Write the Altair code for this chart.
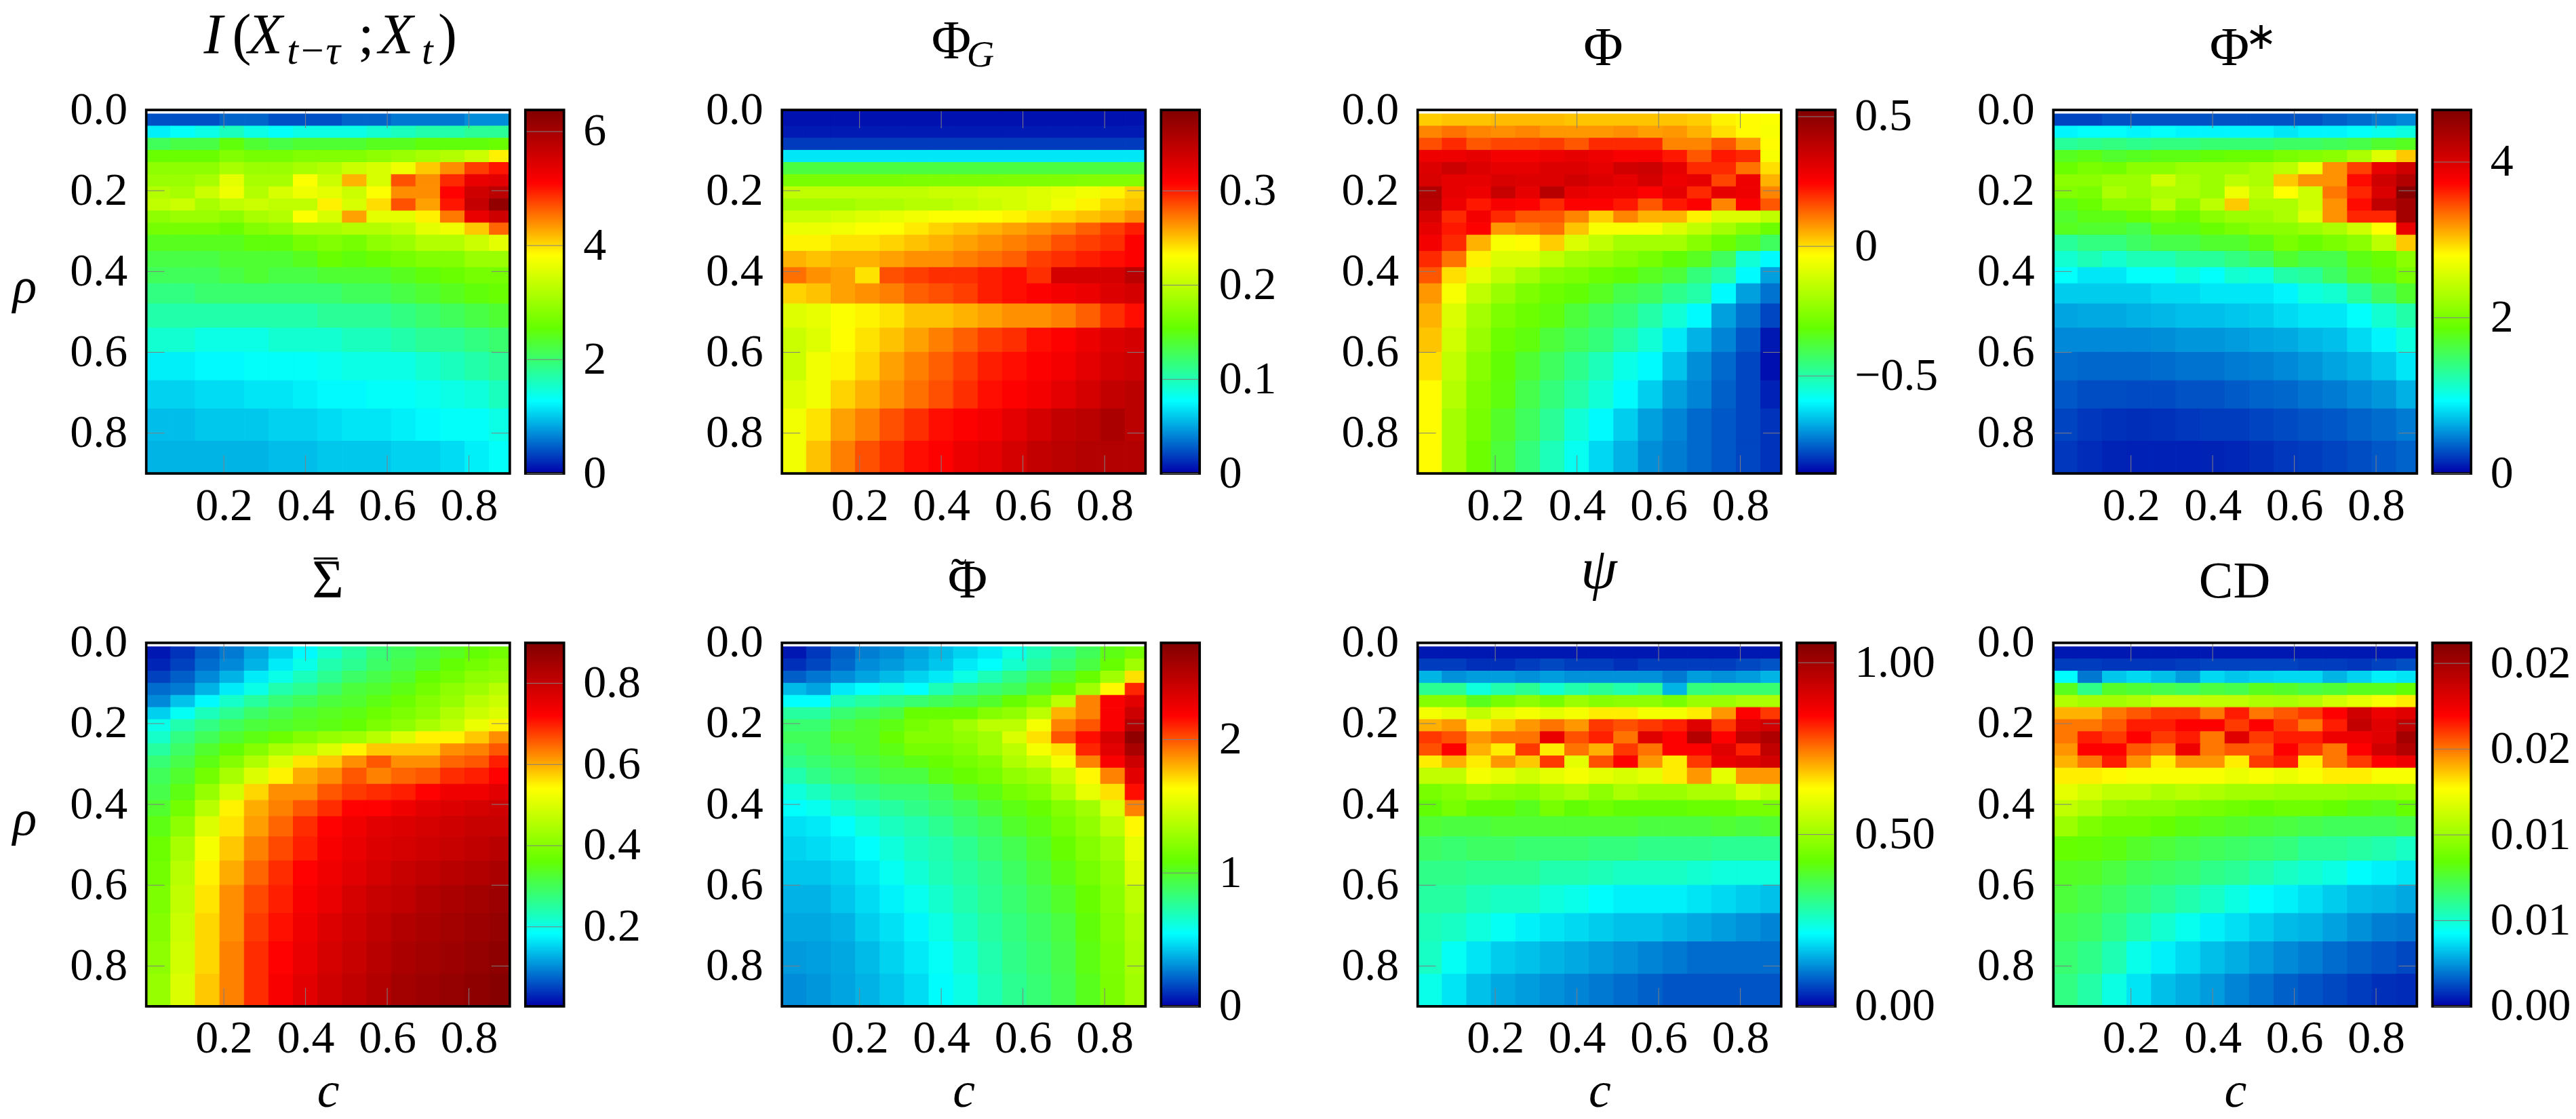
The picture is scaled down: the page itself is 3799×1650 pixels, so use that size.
import altair as alt
import pandas as pd

# cell edges of the grid
C_EDGES = [0.01, 0.07, 0.13, 0.19, 0.25, 0.31, 0.37, 0.43, 0.49, 0.55, 0.61, 0.67, 0.73, 0.79, 0.85, 0.90]
RHO_EDGES = [0.01, 0.04, 0.07, 0.10, 0.13, 0.16, 0.19, 0.22, 0.25, 0.28, 0.31, 0.35, 0.39, 0.43, 0.48, 0.54, 0.60, 0.67, 0.74, 0.82, 0.90]

MI = [
    [.4, .4, .4, .5, .5, .4, .4, .4, .5, .5, .6, .6, .6, .7, .7],
    [1.2, 1.3, 1.4, 1.6, 1.4, 1.3, 1.4, 1.4, 1.4, 1.5, 1.6, 1.7, 1.7, 1.8, 1.8],
    [2.1, 2.2, 2.2, 2.5, 2.3, 2.2, 2.3, 2.3, 2.3, 2.4, 2.4, 2.5, 2.5, 2.5, 2.6],
    [2.6, 2.6, 2.6, 2.8, 2.7, 2.7, 2.8, 2.8, 2.8, 2.9, 3.0, 3.1, 3.2, 3.4, 3.9],
    [2.9, 2.9, 2.9, 3.1, 3.0, 3.0, 3.1, 3.2, 3.4, 3.5, 3.7, 4.1, 4.4, 4.8, 5.0],
    [3.0, 3.0, 3.1, 3.6, 3.1, 3.1, 3.8, 3.4, 4.2, 3.5, 4.7, 4.4, 4.9, 5.3, 5.4],
    [3.2, 3.1, 3.4, 3.7, 3.2, 3.5, 3.7, 3.6, 3.4, 3.8, 4.4, 4.4, 5.1, 5.6, 5.8],
    [3.3, 3.4, 3.1, 3.3, 3.4, 3.3, 3.3, 3.9, 3.5, 4.0, 4.7, 4.3, 5.0, 5.7, 6.2],
    [2.9, 3.0, 3.0, 2.9, 3.1, 3.2, 3.8, 3.5, 4.3, 3.6, 3.6, 3.9, 4.5, 5.3, 5.6],
    [2.7, 2.7, 2.7, 2.6, 2.8, 2.9, 3.1, 3.1, 3.2, 3.2, 3.3, 3.6, 3.7, 4.1, 4.6],
    [2.4, 2.4, 2.4, 2.4, 2.5, 2.5, 2.7, 2.8, 2.7, 2.9, 3.0, 3.2, 3.2, 3.4, 3.6],
    [2.2, 2.2, 2.2, 2.3, 2.3, 2.3, 2.4, 2.6, 2.5, 2.6, 2.7, 2.8, 2.8, 3.0, 3.0],
    [2.1, 2.1, 2.1, 2.2, 2.3, 2.2, 2.2, 2.3, 2.3, 2.3, 2.4, 2.5, 2.6, 2.7, 2.7],
    [1.9, 1.9, 2.0, 2.0, 2.0, 2.0, 2.0, 2.0, 2.1, 2.1, 2.2, 2.3, 2.4, 2.5, 2.6],
    [1.7, 1.7, 1.7, 1.7, 1.7, 1.7, 1.7, 1.8, 1.8, 1.8, 1.9, 2.0, 2.1, 2.2, 2.3],
    [1.5, 1.5, 1.4, 1.4, 1.4, 1.5, 1.5, 1.5, 1.6, 1.6, 1.7, 1.8, 1.8, 1.9, 2.0],
    [1.2, 1.2, 1.25, 1.25, 1.3, 1.3, 1.3, 1.35, 1.4, 1.4, 1.4, 1.5, 1.6, 1.7, 1.8],
    [1.05, 1.05, 1.1, 1.1, 1.15, 1.15, 1.2, 1.25, 1.25, 1.3, 1.3, 1.35, 1.4, 1.45, 1.6],
    [.95, .95, 1.0, 1.0, 1.0, 1.05, 1.05, 1.1, 1.15, 1.15, 1.2, 1.25, 1.3, 1.3, 1.4],
    [.9, .9, .9, .9, .9, .95, .95, 1.0, 1.0, 1.0, 1.05, 1.05, 1.1, 1.2, 1.3],
]
PHI_G = [
    [.005, .005, .005, .005, .005, .005, .005, .005, .005, .005, .005, .005, .005, .005, .005],
    [.008, .008, .008, .008, .008, .008, .008, .008, .008, .008, .008, .008, .008, .008, .008],
    [.018, .018, .018, .018, .018, .018, .018, .018, .018, .018, .018, .018, .018, .018, .018],
    [.07, .07, .07, .07, .07, .07, .07, .07, .07, .07, .07, .07, .07, .07, .07],
    [.135, .135, .135, .135, .135, .135, .135, .135, .135, .135, .135, .135, .135, .135, .135],
    [.165, .165, .165, .165, .165, .167, .167, .167, .167, .168, .168, .168, .17, .17, .17],
    [.2, .2, .2, .2, .2, .2, .205, .205, .21, .21, .215, .22, .225, .235, .245],
    [.185, .185, .185, .19, .19, .195, .195, .2, .205, .21, .215, .225, .235, .245, .25],
    [.205, .205, .21, .215, .22, .225, .23, .23, .232, .235, .24, .245, .25, .255, .265],
    [.222, .222, .225, .23, .232, .238, .245, .25, .255, .26, .265, .27, .28, .29, .30],
    [.235, .235, .24, .24, .245, .25, .255, .26, .265, .27, .275, .285, .29, .295, .31],
    [.255, .25, .255, .255, .26, .265, .265, .27, .275, .28, .29, .295, .30, .305, .31],
    [.275, .265, .26, .24, .285, .29, .295, .295, .3, .305, .295, .335, .335, .335, .35],
    [.245, .25, .26, .265, .27, .28, .285, .29, .3, .305, .31, .315, .32, .33, .335],
    [.215, .22, .23, .235, .24, .25, .25, .255, .26, .265, .265, .27, .28, .295, .305],
    [.205, .215, .232, .24, .25, .26, .27, .28, .29, .295, .305, .31, .32, .33, .335],
    [.205, .225, .235, .245, .26, .27, .28, .29, .3, .305, .31, .315, .325, .335, .34],
    [.215, .225, .245, .255, .265, .275, .285, .295, .305, .31, .315, .325, .335, .345, .35],
    [.225, .24, .26, .27, .285, .295, .305, .31, .315, .325, .335, .345, .35, .36, .35],
    [.225, .25, .27, .285, .295, .305, .31, .32, .325, .335, .345, .35, .355, .355, .355],
]
PHI = [
    [.02, .03, .03, .04, .04, .04, .03, .03, .03, .03, .03, .02, -.02, -.03, -.04],
    [.1, .12, .1, .09, .1, .08, .08, .08, .09, .07, .08, .05, 0, -.03, -.05],
    [.16, .2, .15, .17, .17, .18, .15, .2, .2, .2, .1, .1, .15, .08, -.03],
    [.28, .28, .3, .27, .27, .28, .3, .28, .26, .26, .22, .15, .22, .2, -.05],
    [.32, .36, .32, .3, .3, .32, .32, .3, .35, .36, .3, .2, .2, .12, 0],
    [.33, .3, .3, .33, .32, .32, .35, .32, .3, .34, .28, .3, .17, .28, .05],
    [.42, .3, .28, .37, .3, .4, .3, .28, .28, .25, .3, .2, .3, .28, .1],
    [.4, .28, .22, .26, .25, .2, .25, .25, .22, .15, .22, .25, .1, .25, .15],
    [.33, .2, .27, .2, .15, .15, .1, .02, .1, .05, .05, -.02, -.1, -.1, -.15],
    [.3, .22, .25, .08, .1, .12, .03, -.05, -.05, -.05, -.1, -.15, -.2, -.25, -.3],
    [.27, .2, .05, -.05, -.03, .02, -.1, -.15, -.2, -.2, -.2, -.25, -.3, -.35, -.42],
    [.2, .12, -.02, -.1, -.1, -.15, -.2, -.22, -.25, -.28, -.32, -.35, -.42, -.55, -.6],
    [.15, .0, -.08, -.15, -.2, -.25, -.27, -.3, -.32, -.35, -.38, -.45, -.5, -.6, -.7],
    [.08, -.05, -.15, -.22, -.27, -.3, -.32, -.35, -.4, -.42, -.47, -.5, -.6, -.7, -.75],
    [.05, -.1, -.2, -.27, -.3, -.33, -.38, -.42, -.45, -.5, -.55, -.6, -.7, -.75, -.8],
    [.03, -.12, -.22, -.3, -.33, -.38, -.42, -.45, -.5, -.55, -.62, -.68, -.73, -.78, -.85],
    [.0, -.15, -.25, -.32, -.37, -.42, -.47, -.52, -.57, -.6, -.66, -.72, -.76, -.8, -.86],
    [-.03, -.17, -.27, -.33, -.4, -.45, -.5, -.55, -.6, -.65, -.7, -.73, -.77, -.8, -.84],
    [-.03, -.2, -.28, -.36, -.42, -.48, -.55, -.6, -.65, -.7, -.73, -.76, -.78, -.8, -.82],
    [-.03, -.2, -.3, -.38, -.45, -.52, -.58, -.64, -.68, -.72, -.74, -.76, -.78, -.8, -.82],
]
PHI_STAR = [
    [.25, .25, .3, .3, .3, .3, .3, .3, .3, .3, .3, .35, .4, .45, .5],
    [.9, .95, .95, .9, .95, .9, .9, .9, .9, .85, .9, .9, .95, 1.0, 1.05],
    [1.3, 1.35, 1.4, 1.35, 1.4, 1.4, 1.45, 1.45, 1.45, 1.5, 1.5, 1.55, 1.6, 1.7, 1.75],
    [1.75, 1.8, 1.7, 1.75, 1.8, 1.8, 1.85, 1.9, 1.9, 2.0, 2.05, 2.1, 2.3, 2.6, 3.0],
    [1.9, 2.0, 1.95, 2.1, 2.1, 2.2, 2.2, 2.2, 2.3, 2.4, 2.7, 3.2, 3.5, 3.9, 4.1],
    [2.1, 2.1, 2.2, 2.2, 2.5, 2.3, 2.2, 2.4, 2.3, 3.0, 3.2, 3.2, 3.7, 4.1, 4.3],
    [2.05, 2.0, 2.3, 2.2, 2.3, 2.3, 2.2, 2.7, 2.4, 2.8, 2.5, 3.3, 3.6, 4.0, 4.6],
    [1.8, 1.9, 2.1, 2.1, 2.4, 2.1, 2.4, 3.0, 2.3, 2.3, 2.5, 3.2, 3.7, 4.2, 4.4],
    [1.7, 1.8, 1.8, 1.9, 2.0, 1.9, 2.1, 2.2, 2.2, 2.3, 2.6, 3.2, 3.6, 3.6, 4.4],
    [1.75, 1.7, 1.7, 1.6, 1.8, 1.8, 1.9, 2.0, 2.1, 2.1, 2.2, 2.3, 2.5, 2.8, 3.9],
    [1.3, 1.4, 1.4, 1.5, 1.6, 1.6, 1.7, 1.7, 1.8, 2.0, 1.9, 2.0, 2.1, 2.4, 3.0],
    [1.1, 1.2, 1.1, 1.2, 1.2, 1.3, 1.3, 1.4, 1.5, 1.7, 1.6, 1.6, 1.8, 1.9, 2.1],
    [.95, .85, .85, .95, .95, 1.05, .95, 1.1, 1.05, 1.25, 1.3, 1.5, 1.7, 1.8, 2.0],
    [.75, .75, .75, .75, .8, .8, .85, .85, .85, .9, 1.05, 1.1, 1.3, 1.5, 1.7],
    [.6, .62, .62, .65, .67, .7, .7, .72, .75, .8, .85, .85, .95, 1.1, 1.25],
    [.5, .5, .5, .5, .52, .55, .55, .57, .6, .62, .67, .7, .8, .9, 1.05],
    [.4, .38, .38, .38, .4, .42, .42, .45, .47, .5, .55, .6, .65, .72, .85],
    [.32, .28, .28, .27, .27, .3, .3, .33, .36, .38, .42, .45, .5, .55, .65],
    [.25, .2, .18, .17, .18, .2, .22, .22, .25, .27, .3, .32, .36, .4, .45],
    [.2, .16, .13, .12, .12, .12, .13, .14, .17, .2, .22, .25, .28, .32, .36],
]
SIGMA_BAR = [
    [.02, .04, .07, .09, .12, .15, .18, .22, .25, .28, .3, .32, .34, .36, .38],
    [.03, .05, .08, .1, .13, .17, .2, .24, .26, .29, .31, .33, .36, .38, .4],
    [.05, .07, .1, .13, .17, .2, .23, .26, .29, .31, .33, .36, .38, .41, .42],
    [.08, .09, .13, .17, .2, .24, .26, .29, .32, .33, .35, .38, .41, .43, .46],
    [.1, .14, .18, .22, .25, .28, .3, .32, .33, .35, .37, .4, .42, .46, .48],
    [.15, .19, .23, .26, .29, .31, .33, .34, .35, .37, .39, .41, .45, .48, .5],
    [.2, .24, .27, .3, .32, .33, .34, .35, .36, .39, .41, .44, .47, .52, .55],
    [.22, .27, .3, .33, .35, .37, .4, .42, .43, .46, .5, .55, .55, .58, .62],
    [.25, .29, .33, .36, .4, .44, .46, .5, .55, .58, .58, .58, .62, .63, .66],
    [.28, .31, .35, .4, .45, .5, .56, .58, .62, .66, .62, .62, .65, .66, .7],
    [.3, .33, .38, .44, .5, .55, .6, .62, .66, .63, .65, .66, .69, .7, .72],
    [.31, .35, .42, .49, .57, .62, .62, .66, .68, .69, .7, .72, .74, .74, .76],
    [.33, .38, .46, .55, .6, .63, .66, .69, .72, .72, .74, .76, .77, .78, .79],
    [.35, .41, .5, .56, .61, .65, .69, .72, .74, .76, .77, .78, .79, .8, .8],
    [.37, .44, .53, .58, .63, .67, .7, .73, .75, .77, .78, .79, .8, .81, .82],
    [.38, .46, .55, .6, .65, .69, .72, .74, .76, .78, .8, .81, .82, .83, .84],
    [.39, .47, .56, .62, .67, .7, .73, .75, .78, .8, .81, .83, .84, .85, .86],
    [.4, .48, .57, .62, .68, .71, .74, .77, .79, .81, .83, .84, .85, .86, .87],
    [.41, .49, .57, .63, .69, .72, .75, .78, .8, .82, .84, .85, .86, .87, .88],
    [.42, .5, .58, .63, .69, .73, .76, .79, .81, .83, .85, .86, .87, .88, .89],
]
PHI_TILDE = [
    [.05, .12, .2, .27, .3, .35, .4, .45, .5, .6, .7, .8, .9, 1.05, 1.15],
    [.1, .15, .22, .3, .33, .37, .42, .5, .55, .65, .75, .85, .95, 1.1, 1.3],
    [.2, .25, .3, .35, .4, .45, .5, .6, .7, .8, .9, 1.0, 1.1, 1.3, 1.7],
    [.4, .35, .5, .55, .6, .55, .7, .8, .85, .9, 1.0, 1.1, 1.3, 1.65, 2.1],
    [.55, .55, .7, .75, .8, .85, .9, .95, 1.0, 1.1, 1.2, 1.4, 1.9, 2.2, 2.3],
    [.75, .75, .85, .9, .95, 1.1, 1.1, 1.1, 1.2, 1.25, 1.4, 1.8, 1.9, 2.2, 2.4],
    [.85, .85, .95, 1.0, 1.05, 1.15, 1.2, 1.3, 1.4, 1.4, 1.6, 1.9, 2.0, 2.2, 2.5],
    [.9, .9, 1.0, 1.0, 1.1, 1.2, 1.2, 1.25, 1.3, 1.5, 1.7, 2.0, 2.15, 2.35, 2.65],
    [.85, .9, .95, 1.0, 1.05, 1.15, 1.15, 1.2, 1.3, 1.4, 1.6, 1.7, 2.1, 2.3, 2.55],
    [.8, .85, .9, .95, 1.0, 1.05, 1.1, 1.15, 1.2, 1.35, 1.45, 1.6, 1.9, 2.2, 2.4],
    [.72, .8, .85, .9, .95, .95, 1.05, 1.1, 1.15, 1.25, 1.3, 1.45, 1.65, 1.9, 2.3],
    [.62, .68, .75, .8, .85, .85, .9, 1.0, 1.05, 1.15, 1.2, 1.35, 1.55, 1.7, 2.15],
    [.55, .58, .65, .7, .75, .8, .85, .9, .98, 1.05, 1.1, 1.2, 1.3, 1.5, 1.9],
    [.48, .5, .55, .62, .68, .72, .78, .85, .9, 1.0, 1.05, 1.15, 1.25, 1.4, 1.65],
    [.45, .47, .5, .55, .62, .68, .72, .78, .85, .92, 1.0, 1.1, 1.2, 1.3, 1.55],
    [.42, .42, .45, .5, .57, .63, .7, .75, .8, .88, .96, 1.05, 1.15, 1.25, 1.5],
    [.38, .38, .42, .47, .52, .58, .65, .72, .78, .85, .92, 1.0, 1.1, 1.22, 1.4],
    [.36, .36, .38, .44, .48, .53, .6, .68, .75, .82, .88, .95, 1.07, 1.2, 1.35],
    [.33, .34, .36, .4, .45, .5, .56, .63, .72, .8, .86, .93, 1.05, 1.18, 1.33],
    [.3, .32, .35, .38, .42, .47, .54, .6, .7, .78, .84, .92, 1.03, 1.17, 1.3],
]
PSI = [
    [.02, .02, .02, .02, .02, .02, .02, .02, .02, .02, .02, .02, .02, .02, .02],
    [.05, .05, .04, .04, .05, .06, .05, .05, .04, .05, .05, .05, .05, .06, .07],
    [.15, .12, .13, .13, .12, .13, .12, .12, .12, .12, .1, .13, .12, .13, .15],
    [.3, .3, .24, .28, .3, .25, .28, .3, .28, .3, .15, .32, .33, .33, .33],
    [.47, .47, .4, .45, .48, .45, .5, .47, .48, .48, .45, .5, .5, .52, .52],
    [.62, .6, .55, .6, .62, .6, .62, .65, .65, .62, .62, .65, .72, .85, .8],
    [.7, .72, .65, .68, .72, .75, .72, .8, .78, .8, .82, .9, .8, .9, .92],
    [.8, .78, .72, .75, .75, .88, .78, .82, .75, .9, .85, .97, .85, .95, .98],
    [.78, .85, .7, .65, .8, .65, .75, .7, .8, .75, .85, .85, .9, .82, .95],
    [.65, .7, .65, .72, .68, .8, .6, .78, .85, .72, .65, .8, .88, .9, .92],
    [.55, .55, .62, .6, .57, .6, .62, .6, .58, .6, .65, .72, .6, .72, .72],
    [.45, .47, .5, .48, .47, .5, .52, .48, .52, .5, .5, .52, .52, .58, .55],
    [.42, .45, .42, .42, .4, .45, .42, .44, .42, .42, .42, .43, .43, .45, .45],
    [.38, .37, .37, .38, .38, .38, .38, .38, .38, .37, .37, .37, .38, .37, .38],
    [.34, .33, .34, .34, .33, .33, .33, .32, .32, .31, .31, .31, .3, .3, .3],
    [.31, .31, .3, .3, .3, .28, .28, .27, .26, .26, .26, .25, .24, .24, .24],
    [.29, .29, .27, .26, .26, .24, .23, .21, .2, .2, .2, .19, .18, .17, .16],
    [.27, .26, .24, .22, .2, .19, .18, .17, .16, .16, .15, .14, .13, .12, .11],
    [.26, .22, .19, .17, .16, .15, .14, .13, .12, .11, .1, .09, .09, .09, .09],
    [.23, .19, .16, .14, .13, .12, .11, .1, .09, .08, .07, .07, .07, .07, .07],
]
CD = [
    [.0004, .0004, .0004, .0004, .0004, .0004, .0004, .0004, .0004, .0004, .0004, .0004, .0004, .0004, .0004],
    [.0010, .0010, .0009, .0009, .0009, .0010, .0011, .0011, .0011, .0011, .0010, .0010, .0009, .0011, .0013],
    [.0042, .0020, .0033, .0036, .0032, .0026, .0036, .0033, .0035, .0036, .0036, .0030, .0035, .0040, .0038],
    [.0080, .0062, .0078, .0076, .0072, .0070, .0074, .0072, .0080, .0078, .0074, .0076, .0080, .0080, .0084],
    [.0106, .0102, .0102, .0105, .0112, .0112, .0110, .0110, .0105, .0104, .0107, .0115, .0120, .0125, .0130],
    [.0140, .0140, .0150, .0155, .0160, .0160, .0150, .0165, .0150, .0155, .0160, .0170, .0185, .0175, .0180],
    [.0150, .0150, .0155, .0165, .0165, .0170, .0170, .0160, .0170, .0160, .0150, .0165, .0190, .0180, .0190],
    [.0150, .0165, .0160, .0170, .0160, .0165, .0150, .0180, .0160, .0165, .0165, .0175, .0175, .0180, .0200],
    [.0145, .0170, .0170, .0155, .0150, .0175, .0150, .0155, .0155, .0170, .0160, .0150, .0170, .0185, .0195],
    [.0140, .0150, .0165, .0145, .0130, .0145, .0145, .0130, .0160, .0165, .0130, .0150, .0160, .0170, .0175],
    [.0130, .0130, .0128, .0125, .0125, .0125, .0125, .0122, .0125, .0122, .0125, .0130, .0130, .0125, .0125],
    [.0120, .0115, .0110, .0110, .0105, .0108, .0105, .0102, .0102, .0100, .0100, .0100, .0098, .0098, .0100],
    [.0110, .0105, .0098, .0095, .0095, .0092, .0090, .0088, .0085, .0088, .0088, .0085, .0082, .0080, .0085],
    [.0100, .0092, .0088, .0088, .0085, .0082, .0080, .0078, .0076, .0074, .0072, .0070, .0070, .0070, .0072],
    [.0085, .0084, .0082, .0078, .0075, .0072, .0070, .0068, .0066, .0064, .0060, .0060, .0058, .0056, .0052],
    [.0079, .0078, .0074, .0070, .0068, .0066, .0062, .0060, .0056, .0052, .0050, .0047, .0042, .0040, .0038],
    [.0075, .0072, .0068, .0064, .0060, .0056, .0052, .0047, .0042, .0040, .0037, .0034, .0031, .0030, .0028],
    [.0070, .0068, .0062, .0056, .0050, .0045, .0040, .0037, .0034, .0031, .0030, .0027, .0024, .0021, .0020],
    [.0066, .0062, .0055, .0046, .0040, .0036, .0032, .0029, .0026, .0023, .0021, .0018, .0016, .0014, .0012],
    [.0063, .0057, .0047, .0038, .0032, .0029, .0026, .0022, .0019, .0016, .0014, .0012, .0010, .0008, .0007],
]

SIZE = 537
BAR_L = 560
BAR_R = 617
FONT = "Liberation Serif"
LAB = 68
C_TICKS = [0.2, 0.4, 0.6, 0.8]
RHO_TICKS = [0.0, 0.2, 0.4, 0.6, 0.8]
STOPS = ["#0000aa", "#00ffff", "#64ff00", "#ffff00", "#ff0000", "#800000"]
GREY = "#808080"

# text, x in the panel, y above the panel, size, italic
TITLES = {
    "mi": [("I", 85, -83, 84, True), ("(", 127, -83, 84, False), ("X", 150, -83, 84, True),
           ("t−τ", 208, -68, 60, True), (";", 313, -83, 84, False), ("X", 343, -83, 84, True),
           ("t", 407, -68, 60, True), (")", 431, -83, 84, False)],
    "phig": [("Φ", 221, -76, 80, False), ("G", 273, -64, 56, True)],
    "phi": [("Φ", 245, -66, 80, False)],
    "phis": [("Φ", 231, -66, 80, False), ("∗", 283, -90, 56, False)],
    "sig": [("Σ", 245, -67, 80, False), ("¯", 248, -75, 68, False)],
    "phit": [("Φ", 245, -67, 80, False), ("˜", 250, -78, 68, False)],
    "psi": [("ψ", 241, -81, 86, True)],
    "cd": [("CD", 215, -67, 76, False)],
}

one = pd.DataFrame({"a": [0]})


def panel(values, lo, hi, ticks, key, left=False, bottom=False, fmt=".1f", expr=None, top=None):
    rows = []
    for i, row in enumerate(values):
        for j, v in enumerate(row):
            r0 = RHO_EDGES[i]
            if i == 0 and top is not None:
                r0 = top
            rows.append({"c0": C_EDGES[j], "c1": C_EDGES[j + 1],
                         "r0": r0, "r1": RHO_EDGES[i + 1], "v": v})
    cells = pd.DataFrame(rows)
    x_scale = alt.Scale(domain=[0.01, 0.9], range=[0, SIZE], nice=False, zero=False)
    y_scale = alt.Scale(domain=[0.0, 0.9], range=[0, SIZE], nice=False, zero=False)
    bar_scale = alt.Scale(domain=[lo, hi], nice=False, zero=False)
    steps = [lo + (hi - lo) * k / 5 for k in range(6)]
    col_scale = alt.Scale(domain=steps, range=STOPS, interpolate="rgb")

    x_axis = alt.Axis(values=C_TICKS, format=".1f", ticks=False, domain=False, grid=False,
                      labelFont=FONT, labelFontSize=LAB, labelColor="black", labelPadding=14,
                      labelFlush=False, labelOverlap=False,
                      title="c" if bottom else None, titleFont=FONT, titleFontSize=74,
                      titleFontStyle="italic", titleFontWeight="normal", titleColor="black",
                      titleX=SIZE / 2, titleY=148, titleAlign="center", titleBaseline="alphabetic")
    y_axis = alt.Axis(values=RHO_TICKS, format=".1f", ticks=False, domain=False, grid=False,
                      labelFont=FONT, labelFontSize=LAB, labelColor="black", labelPadding=28,
                      labelFlush=False, labelOverlap=False,
                      title="ρ" if left else None, titleFont=FONT, titleFontSize=74,
                      titleFontStyle="italic", titleFontWeight="normal", titleColor="black",
                      titleAngle=0, titleX=-180, titleY=SIZE / 2 + 15, titleAlign="center",
                      titleBaseline="alphabetic")
    heat = alt.Chart(cells).mark_rect(strokeWidth=1).encode(
        x=alt.X("c0:Q", scale=x_scale, axis=x_axis),
        x2="c1:Q",
        y=alt.Y("r0:Q", scale=y_scale, axis=y_axis),
        y2="r1:Q",
        fill=alt.Fill("v:Q", scale=col_scale, legend=None),
        stroke=alt.Stroke("v:Q", scale=col_scale, legend=None),
    )
    xt = pd.DataFrame({"c": C_TICKS})
    yt = pd.DataFrame({"r": RHO_TICKS[1:]})
    tick = alt.Chart(xt).mark_rule(color=GREY, strokeWidth=1)
    ytick = alt.Chart(yt).mark_rule(color=GREY, strokeWidth=1)
    xs = alt.X("c:Q", scale=x_scale, axis=None)
    ys = alt.Y("r:Q", scale=y_scale, axis=None)
    layers = [
        heat,
        tick.encode(x=xs, y=alt.value(0), y2=alt.value(27)),
        tick.encode(x=xs, y=alt.value(SIZE - 27), y2=alt.value(SIZE)),
        ytick.encode(y=ys, x=alt.value(0), x2=alt.value(27)),
        ytick.encode(y=ys, x=alt.value(SIZE - 27), x2=alt.value(SIZE)),
        alt.Chart(pd.DataFrame({"c0": [0.01], "c1": [0.9], "r0": [0.0], "r1": [0.9]}))
        .mark_rect(filled=False, stroke="black", strokeWidth=3.7)
        .encode(x=alt.X("c0:Q", scale=x_scale, axis=None), x2="c1:Q",
                y=alt.Y("r0:Q", scale=y_scale, axis=None), y2="r1:Q"),
    ]
    grad = alt.LinearGradient(gradient="linear", x1=0, x2=0, y1=1, y2=0,
                              stops=[alt.GradientStop(color=c, offset=k / 5) for k, c in enumerate(STOPS)])
    bar_axis = alt.Axis(orient="right", values=ticks, format=fmt, ticks=False, domain=False,
                        grid=False, title=None, labelFont=FONT, labelFontSize=LAB,
                        labelColor="black", labelPadding=28, labelFlush=False, labelOverlap=False)
    if expr:
        bar_axis = alt.Axis(orient="right", values=ticks, ticks=False, domain=False, grid=False,
                            title=None, labelFont=FONT, labelFontSize=LAB, labelColor="black",
                            labelPadding=28, labelFlush=False, labelOverlap=False, labelExpr=expr)
    layers.append(
        alt.Chart(pd.DataFrame({"lo": [lo], "hi": [hi]}))
        .mark_rect(fill=grad, stroke="black", strokeWidth=3.7)
        .encode(y=alt.Y("hi:Q", scale=bar_scale, axis=bar_axis), y2="lo:Q",
                x=alt.value(BAR_L), x2=alt.value(BAR_R))
    )
    layers.append(
        alt.Chart(pd.DataFrame({"t": ticks})).mark_rule(color=GREY, strokeWidth=1)
        .encode(y=alt.Y("t:Q", scale=bar_scale, axis=None),
                x=alt.value(BAR_L + 2), x2=alt.value(BAR_R - 2))
    )
    for text, px, py, fs, ital in TITLES[key]:
        layers.append(
            alt.Chart(one).mark_text(text=text, font=FONT, fontSize=fs, align="left",
                                     baseline="alphabetic", color="black",
                                     fontStyle="italic" if ital else "normal")
            .encode(x=alt.value(px), y=alt.value(py))
        )
    return alt.layer(*layers).resolve_scale(
        x="independent", y="independent", fill="independent", stroke="independent"
    ).resolve_axis(x="independent", y="independent").properties(width=BAR_R, height=SIZE)


CD_EXPR = "datum.value == 0 ? '0.00' : datum.value < 0.012 ? '0.01' : '0.02'"

panels = [
    panel(MI, 0, 6.38, [0, 2, 4, 6], "mi", left=True, fmt="d"),
    panel(PHI_G, 0, 0.386, [0, 0.1, 0.2, 0.3], "phig", top=0.0,
          expr="datum.value == 0 ? '0' : format(datum.value, '.1f')"),
    panel(PHI, -0.876, 0.526, [-0.5, 0, 0.5], "phi",
          expr="datum.value == 0 ? '0' : replace(format(datum.value, '.1f'), '-', '−')"),
    panel(PHI_STAR, 0, 4.67, [0, 2, 4], "phis", fmt="d"),
    panel(SIGMA_BAR, 0.004, 0.9, [0.2, 0.4, 0.6, 0.8], "sig", left=True, bottom=True),
    panel(PHI_TILDE, 0, 2.725, [0, 1, 2], "phit", bottom=True, fmt="d"),
    panel(PSI, 0, 1.058, [0, 0.5, 1], "psi", bottom=True, fmt=".2f"),
    panel(CD, 0, 0.0212, [0, 0.005, 0.01, 0.015, 0.02], "cd", bottom=True, expr=CD_EXPR),
]

chart = alt.concat(*panels, columns=4, spacing={"row": 250, "column": 322}, bounds="flush").properties(
    padding={"left": 10, "top": 3, "right": 0, "bottom": 0},
).configure_view(stroke=None)

chart.save("out.html", embed_options={"renderer": "svg", "actions": False})
